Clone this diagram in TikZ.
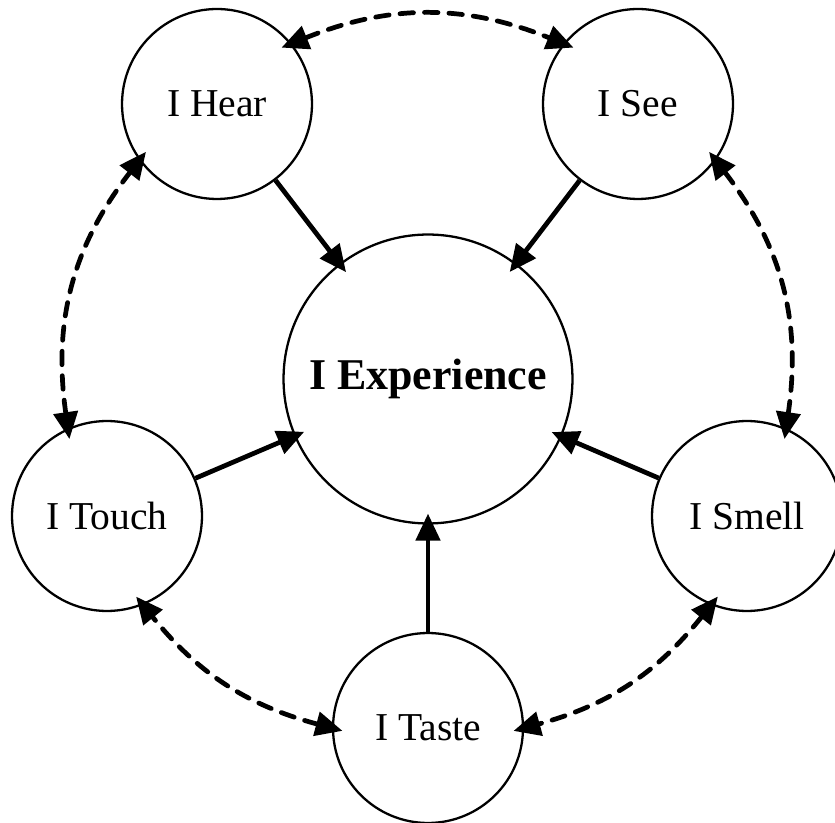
\documentclass[tikz,border=0pt]{standalone}
\usepackage{fontspec}
\setmainfont{Liberation Serif}
\usetikzlibrary{arrows.meta}

\begin{document}
\begin{tikzpicture}[
        x=0.02cm, y=0.02cm,
        >={Triangle[length=0.54cm, width=0.48cm]},
        sense/.style={draw, circle, line width=1.3pt, minimum size=3.8cm, inner sep=0pt, font=\fontsize{22.5}{27}\selectfont},
        core/.style={draw, circle, line width=1.3pt, minimum size=5.78cm, inner sep=0pt, font=\fontsize{25}{30}\selectfont\bfseries},
        arrow/.style={->, line width=2.7pt, shorten >=-0.22cm},
        link/.style={<->, line width=2.7pt, line cap=round, dash pattern=on 0.27cm off 0.22cm, shorten >=-0.22cm, shorten <=-0.22cm}
    ]
    \useasboundingbox (0,0) rectangle (835,822);

    % Centre
    \node[core] (exp) at (428,443) {I Experience};

    % Senses
    \node[sense] (hear) at (217,718) {I Hear};
    \node[sense] (see) at (638,718) {I See};
    \node[sense] (touch) at (107,306) {I Touch};
    \node[sense] (smell) at (747,306) {I Smell};
    \node[sense] (taste) at (428,94) {I Taste};

    % Arrows into the centre
    \draw[arrow] (hear) -- (exp); \draw[arrow] (see) -- (exp);
    \draw[arrow] (touch) -- (exp); \draw[arrow] (smell) -- (exp);
    \draw[arrow] (taste) -- (exp);

    % Links round the ring
    \draw[link] (hear.39) to[bend left=22] (see.141);
    \draw[link] (see.-36) to[bend left=23] (smell.66);
    \draw[link] (smell.248) to[bend left=18] (taste.0);
    \draw[link] (taste.180) to[bend left=18] (touch.292);
    \draw[link] (touch.114) to[bend left=23] (hear.216);
\end{tikzpicture}
\end{document}
